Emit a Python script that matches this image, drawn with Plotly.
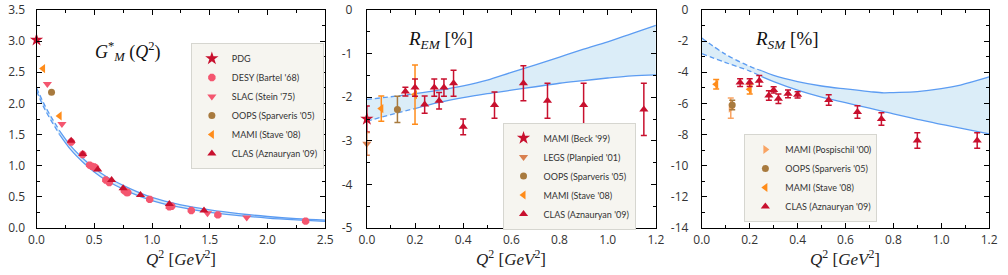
import plotly.graph_objects as go

# ---------------- Panel 1 : G_M*(Q^2) ----------------
pdg_x = [0.0]
pdg_y = [3.02]
desy_x = [0.30, 0.40, 0.46, 0.48, 0.50, 0.51, 0.60, 0.63, 0.76, 0.78, 0.79, 0.98, 1.15, 1.17, 1.34, 1.57, 2.33]
desy_y = [1.38, 1.18, 1.01, 0.99, 0.98, 0.97, 0.77, 0.73, 0.60, 0.57, 0.57, 0.46, 0.34, 0.35, 0.28, 0.21, 0.11]
slac_x = [0.094, 0.22, 1.48, 1.82]
slac_y = [2.31, 1.67, 0.235, 0.17]
oops_gm_x = [0.13]
oops_gm_y = [2.18]
stave_gm_x = [0.057, 0.20]
stave_gm_y = [2.56, 1.80]
clas_gm_x = [0.30, 0.40, 0.53, 0.65, 0.75, 0.90, 1.15, 1.45]
clas_gm_y = [1.40, 1.19, 0.94, 0.77, 0.64, 0.53, 0.385, 0.28]

gm_x = [0, 0.05, 0.1, 0.2, 0.3, 0.4, 0.5, 0.6, 0.8, 1.0, 1.25, 1.5, 1.75, 2.0, 2.25, 2.5]
gm_upper = [2.25, 2.05, 1.87, 1.56, 1.31, 1.12, 0.96, 0.83, 0.64, 0.49, 0.37, 0.29, 0.23, 0.185, 0.15, 0.125]
gm_lower = [2.20, 1.99, 1.81, 1.50, 1.25, 1.06, 0.90, 0.77, 0.58, 0.44, 0.33, 0.25, 0.20, 0.16, 0.13, 0.105]
gm_dash_end = 3  # index where dashed part ends

# ---------------- Panel 2 : R_EM ----------------
beck_x = [0.0]
beck_y = [-2.5]
beck_err = [0.3]
legs_x = [0.0]
legs_y = [-3.07]
legs_err = [0.26]
oops_em_x = [0.127]
oops_em_y = [-2.28]
oops_em_err = [0.3]
stave_em_x = [0.06, 0.20]
stave_em_y = [-2.26, -1.94]
stave_em_err = [0.29, 0.68]
clas_em_x = [0.16, 0.20, 0.24, 0.28, 0.30, 0.32, 0.36, 0.40, 0.53, 0.65, 0.75, 0.90, 1.15]
clas_em_y = [-1.87, -1.78, -2.17, -1.78, -2.08, -1.78, -1.68, -2.68, -2.18, -1.68, -2.08, -2.18, -2.28]
clas_em_err = [0.10, 0.20, 0.20, 0.20, 0.19, 0.20, 0.30, 0.18, 0.30, 0.40, 0.40, 0.50, 0.60]

em_x = [0, 0.1, 0.2, 0.3, 0.4, 0.5, 0.6, 0.7, 0.8, 0.9, 1.0, 1.1, 1.2]
em_upper = [-2.05, -1.99, -1.92, -1.84, -1.74, -1.61, -1.43, -1.26, -1.08, -0.90, -0.73, -0.54, -0.35]
em_lower = [-2.55, -2.40, -2.26, -2.12, -2.01, -1.92, -1.84, -1.76, -1.68, -1.62, -1.56, -1.51, -1.49]
em_dash_end = 2

# ---------------- Panel 3 : R_SM ----------------
posp_x = [0.121]
posp_y = [-6.3]
posp_err = [0.65]
oops_sm_x = [0.127]
oops_sm_y = [-6.1]
oops_sm_err = [0.3]
stave_sm_x = [0.06, 0.20]
stave_sm_y = [-4.77, -5.09]
stave_sm_err = [0.3, 0.3]
clas_sm_x = [0.16, 0.20, 0.24, 0.28, 0.30, 0.32, 0.36, 0.40, 0.53, 0.65, 0.75, 0.90, 1.15]
clas_sm_y = [-4.66, -4.66, -4.55, -5.49, -5.13, -5.70, -5.38, -5.45, -5.78, -6.55, -7.0, -8.38, -8.38]
clas_sm_err = [0.25, 0.25, 0.35, 0.30, 0.20, 0.30, 0.25, 0.20, 0.33, 0.40, 0.40, 0.50, 0.50]

sm_x = [0, 0.1, 0.2, 0.25, 0.3, 0.4, 0.5, 0.6, 0.7, 0.76, 0.8, 0.9, 1.0, 1.08, 1.2]
sm_upper = [-1.8, -2.85, -3.62, -3.9, -4.2, -4.6, -4.88, -5.07, -5.24, -5.32, -5.3, -5.24, -5.05, -4.82, -4.3]
sm_lower = [-2.8, -3.38, -3.92, -4.28, -4.6, -5.15, -5.6, -5.95, -6.3, -6.52, -6.67, -7.02, -7.35, -7.58, -7.95]
sm_dash_end = 3

# tick labels
gm_yticks = [0, 0.5, 1.0, 1.5, 2.0, 2.5, 3.0, 3.5]
gm_xticks = [0, 0.5, 1.0, 1.5, 2.0, 2.5]
em_yticks = [0, -1, -2, -3, -4, -5]
sm_yticks = [0, -2, -4, -6, -8, -10, -12, -14]
q_xticks = [0, 0.2, 0.4, 0.6, 0.8, 1.0, 1.2]

# colours
C_RED = '#c8102e'
C_PINK = '#f4566f'
C_BROWN = '#a87a3e'
C_ORANGE = '#ff8c1a'
C_LEGS = '#d9804f'
C_POSP = '#f9a463'
BAND_LINE = '#5c9cf2'
BAND_FILL = 'rgba(190,222,242,0.55)'

fig = go.Figure()


def add_band(x, lo, up, cut, xa, ya):
    fig.add_trace(go.Scatter(x=x, y=lo, mode='lines', line=dict(width=0, shape='spline'),
                             xaxis=xa, yaxis=ya, showlegend=False, hoverinfo='skip'))
    fig.add_trace(go.Scatter(x=x, y=up, mode='lines', line=dict(width=0, shape='spline'),
                             fill='tonexty', fillcolor=BAND_FILL,
                             xaxis=xa, yaxis=ya, showlegend=False, hoverinfo='skip'))
    for arr in (lo, up):
        fig.add_trace(go.Scatter(x=x[:cut + 1], y=arr[:cut + 1], mode='lines',
                                 line=dict(color=BAND_LINE, width=1.3, dash='5px,3px', shape='spline'),
                                 xaxis=xa, yaxis=ya, showlegend=False, hoverinfo='skip'))
        fig.add_trace(go.Scatter(x=x[cut:], y=arr[cut:], mode='lines',
                                 line=dict(color=BAND_LINE, width=1.3, shape='spline'),
                                 xaxis=xa, yaxis=ya, showlegend=False, hoverinfo='skip'))


def add_pts(x, y, name, color, symbol, size, xa, ya, leg, err=None):
    kw = {}
    if err is not None:
        kw['error_y'] = dict(type='data', array=err, visible=True, color=color,
                             thickness=1.5, width=3)
    fig.add_trace(go.Scatter(x=x, y=y, mode='markers', name=name,
                             marker=dict(color=color, symbol=symbol, size=size, line=dict(width=0)),
                             xaxis=xa, yaxis=ya, legend=leg, cliponaxis=False, **kw))


# Panel 1
add_band(gm_x, gm_lower, gm_upper, gm_dash_end, 'x', 'y')
add_pts(pdg_x, pdg_y, 'PDG', C_RED, 'star', 10, 'x', 'y', 'legend')
add_pts(desy_x, desy_y, "DESY (Bartel '68)", C_PINK, 'octagon', 8, 'x', 'y', 'legend')
add_pts(slac_x, slac_y, "SLAC (Stein '75)", C_PINK, 'triangle-down', 8, 'x', 'y', 'legend')
add_pts(oops_gm_x, oops_gm_y, "OOPS (Sparveris '05)", C_BROWN, 'circle', 7, 'x', 'y', 'legend')
add_pts(stave_gm_x, stave_gm_y, "MAMI (Stave '08)", C_ORANGE, 'triangle-left', 8, 'x', 'y', 'legend')
add_pts(clas_gm_x, clas_gm_y, "CLAS (Aznauryan '09)", C_RED, 'triangle-up', 8, 'x', 'y', 'legend')

# Panel 2
add_band(em_x, em_lower, em_upper, em_dash_end, 'x2', 'y2')
add_pts(beck_x, beck_y, "MAMI (Beck '99)", C_RED, 'star', 10, 'x2', 'y2', 'legend2', beck_err)
add_pts(legs_x, legs_y, "LEGS (Planpied '01)", C_LEGS, 'triangle-down', 8, 'x2', 'y2', 'legend2', legs_err)
add_pts(oops_em_x, oops_em_y, "OOPS (Sparveris '05)", C_BROWN, 'circle', 7, 'x2', 'y2', 'legend2', oops_em_err)
add_pts(stave_em_x, stave_em_y, "MAMI (Stave '08)", C_ORANGE, 'triangle-left', 8, 'x2', 'y2', 'legend2', stave_em_err)
add_pts(clas_em_x, clas_em_y, "CLAS (Aznauryan '09)", C_RED, 'triangle-up', 8, 'x2', 'y2', 'legend2', clas_em_err)

# Panel 3
add_band(sm_x, sm_lower, sm_upper, sm_dash_end, 'x3', 'y3')
add_pts(posp_x, posp_y, "MAMI (Pospischil '00)", C_POSP, 'triangle-right', 8, 'x3', 'y3', 'legend3', posp_err)
add_pts(oops_sm_x, oops_sm_y, "OOPS (Sparveris '05)", C_BROWN, 'circle', 7, 'x3', 'y3', 'legend3', oops_sm_err)
add_pts(stave_sm_x, stave_sm_y, "MAMI (Stave '08)", C_ORANGE, 'triangle-left', 8, 'x3', 'y3', 'legend3', stave_sm_err)
add_pts(clas_sm_x, clas_sm_y, "CLAS (Aznauryan '09)", C_RED, 'triangle-up', 8, 'x3', 'y3', 'legend3', clas_sm_err)

TICKFONT = dict(family='Open Sans, sans-serif', size=12, color='#333333')
TITLEFONT = dict(family='Liberation Serif, serif', size=17, color='#222222')
ANNFONT = dict(family='Liberation Serif, serif', size=19, color='#111111')
LEGFONT = dict(family='Lato, sans-serif', size=9, color='#333333')
XTITLE = '<i>Q</i><sup>2</sup> [<i>GeV</i><sup>2</sup>]'


def axis(rng, domain, minor, tickvals, ticktext, anchor, standoff):
    return dict(range=rng, domain=domain, showline=True, linecolor='black', linewidth=1,
                mirror='allticks', ticks='inside', ticklen=5, tickcolor='black', tickwidth=1,
                showgrid=False, zeroline=False, tickfont=TICKFONT, anchor=anchor,
                tickvals=tickvals, ticktext=ticktext, ticklabelstandoff=standoff,
                minor=dict(ticks='inside', ticklen=3, dtick=minor, tickcolor='black', showgrid=False))


def legend_at(x_px, yc_px):
    return dict(x=x_px / W, y=(228 - yc_px) / 218.0, xanchor='left', yanchor='middle',
                bgcolor='#f6f5f0', bordercolor='#d6d6d0', borderwidth=1,
                font=LEGFONT, itemwidth=30, tracegroupgap=0, traceorder='normal')


W = 1008.0
fig.update_layout(
    width=1008, height=275,
    margin=dict(l=0, r=0, t=10, b=47),
    paper_bgcolor='white', plot_bgcolor='white',
    xaxis=axis([0, 2.5], [29 / W, 322.7 / W], 0.25, gm_xticks,
               ['%.1f' % v for v in gm_xticks], 'y', 1),
    yaxis=axis([0, 3.5], [0, 1], 0.25, gm_yticks,
               ['%.1f' % v for v in gm_yticks], 'x', 8),
    xaxis2=axis([0, 1.2], [365 / W, 659 / W], 0.1, q_xticks,
                ['%.1f' % v for v in q_xticks], 'y2', 1),
    yaxis2=axis([-5, 0], [0, 1], 0.5, em_yticks,
                ['%d' % v for v in em_yticks], 'x2', 11),
    xaxis3=axis([0, 1.2], [705.7 / W, 998 / W], 0.1, q_xticks,
                ['%.1f' % v for v in q_xticks], 'y3', 1),
    yaxis3=axis([-14, 0], [0, 1], 1, sm_yticks,
                ['%d' % v for v in sm_yticks], 'x3', 10),
    legend=legend_at(186, 106),
    legend2=legend_at(503, 176),
    legend3=legend_at(749, 178),
    annotations=[
        dict(text='<i>G</i><sup>*</sup><sub><i>M</i></sub> (<i>Q</i><sup>2</sup>)', x=0.485, y=2.83,
             xref='x', yref='y', xanchor='left', showarrow=False,
             font=dict(family='Liberation Serif, serif', size=18, color='#111111')),
        dict(text='<i>R</i><sub><i>EM</i></sub> [%]', x=0.163, y=-0.69, xref='x2', yref='y2',
             xanchor='left', showarrow=False, font=ANNFONT),
        dict(text='<i>R</i><sub><i>SM</i></sub> [%]', x=0.215, y=-1.93, xref='x3', yref='y3',
             xanchor='left', showarrow=False, font=ANNFONT),
        dict(text=XTITLE, x=0.5, y=-30 / 218.0, xref='x domain', yref='y domain',
             yanchor='middle', showarrow=False, font=TITLEFONT),
        dict(text=XTITLE, x=0.5, y=-30 / 218.0, xref='x2 domain', yref='y2 domain',
             yanchor='middle', showarrow=False, font=TITLEFONT),
        dict(text=XTITLE, x=0.5, y=-30 / 218.0, xref='x3 domain', yref='y3 domain',
             yanchor='middle', showarrow=False, font=TITLEFONT),
    ],
)

fig.write_html('out.html', config={'displayModeBar': False},
               post_script="document.body.style.margin='0';document.body.style.overflow='hidden';")
